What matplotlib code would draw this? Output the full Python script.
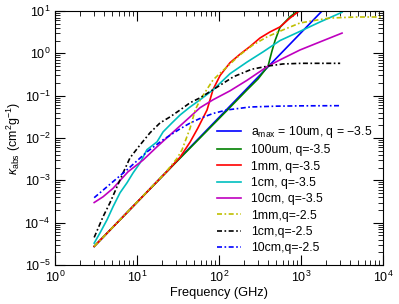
import numpy as np
import matplotlib
matplotlib.use('Agg')
import matplotlib.pyplot as plt

plt.rcParams['font.family'] = ['Liberation Sans', 'DejaVu Sans']
plt.rcParams['mathtext.fontset'] = 'custom'
plt.rcParams['mathtext.rm'] = 'Liberation Sans'
plt.rcParams['mathtext.it'] = 'Liberation Sans:italic'
plt.rcParams['mathtext.bf'] = 'Liberation Sans:bold'

# opacidades (GHz, cm2/g)
blue_f = [3, 3000]
blue_k = [2.76e-5, 27.6]

green_f = [3, 30, 60, 124, 218, 300, 396, 440, 482, 554, 734, 887, 1100, 1500, 3000]
green_k = [2.76e-5, 2.7e-3, 1.05e-2, 0.044, 0.135, 0.25, 0.5, 1.1, 2.0, 4.1, 7.3, 9.6, 13, 18, 30]

red_f = [3, 24, 33.4, 44.3, 55, 71.4, 84.5, 103, 136, 180, 239, 316, 419, 554, 734, 919, 1200, 3000]
red_k = [2.76e-5, 1.75e-3, 3.5e-3, 8.0e-3, 0.017, 0.046, 0.14, 0.3, 0.6, 0.95, 1.45, 2.3, 3.2, 4.2, 6.8, 9.5, 13, 30]

cyan_f = [3, 3.54, 4.31, 5.1, 6.2, 7.55, 8.94, 10.9, 13.2, 17.5, 20.8, 26.7, 33.5, 44.3, 58.7,
          84.5, 136, 219, 344, 554, 972, 1706, 3162]
cyan_k = [3.3e-5, 5.8e-5, 1.18e-4, 2.4e-4, 5.1e-4, 8.8e-4, 1.5e-3, 2.6e-3, 5.3e-3, 8.1e-3, 0.014,
          0.0228, 0.035, 0.054, 0.080, 0.137, 0.33, 0.62, 1.08, 2.0, 3.3, 5.5, 9.3]

mag_f = [3, 3.85, 5.1, 7.77, 11.8, 17.5, 30, 44.3, 58.7, 84.5, 136, 219, 396, 554, 972, 1706, 3162]
mag_k = [3.0e-4, 4.1e-4, 6.5e-4, 1.6e-3, 3.0e-3, 6.2e-3, 0.016, 0.0316, 0.052, 0.08, 0.13, 0.23, 0.5, 0.70, 1.2, 1.86, 3.0]

yel_f = [3, 22, 30.7, 35.4, 44.3, 51.2, 58.7, 84.5, 125, 180, 260, 385, 603, 972, 1567, 2259, 4820, 10000]
yel_k = [2.76e-5, 1.5e-3, 3.3e-3, 5.3e-3, 0.017, 0.046, 0.079, 0.236, 0.48, 0.92, 1.58, 2.44, 3.57, 5.2, 6.1, 6.8, 7.2, 7.2]

blk_f = [3, 3.85, 4.69, 5.7, 6.75, 8.2, 10.9, 14.4, 19.1, 25.3, 33.5, 44.3, 58.7, 100, 150, 250, 396, 600, 1000, 3000]
blk_k = [4.5e-5, 1.39e-4, 3.0e-4, 7.1e-4, 1.5e-3, 3.4e-3, 6.9e-3, 0.0133, 0.0228, 0.0316, 0.046, 0.068, 0.089,
         0.17, 0.28, 0.42, 0.5, 0.56, 0.58, 0.58]

bd_f = [3, 7.55, 13.2, 20.8, 33.5, 44.3, 58.7, 84.5, 125, 239, 500, 1000, 3000]
bd_k = [3.9e-4, 1.78e-3, 4.7e-3, 9.1e-3, 0.0165, 0.0225, 0.029, 0.038, 0.046, 0.054, 0.0565, 0.0575, 0.058]

fig = plt.figure(figsize=(3.99, 3.04), dpi=100)
ax = fig.add_axes([0.138, 0.128, 0.822, 0.836])

dd = (3, 1.5, 1, 1.5)
ax.plot(blue_f, blue_k, '-', color='b', lw=1.2, label=r'a$_{\rm max}$ = 10um, q = $-3.5$')
ax.plot(green_f, green_k, '-', color='g', lw=1.2, label='100um, q=-3.5')
ax.plot(red_f, red_k, '-', color='r', lw=1.2, label='1mm, q=-3.5')
ax.plot(cyan_f, cyan_k, '-', color='c', lw=1.2, label='1cm, q=-3.5')
ax.plot(mag_f, mag_k, '-', color='m', lw=1.2, label='10cm, q=-3.5')
ax.plot(yel_f, yel_k, '-.', color='y', lw=1.2, dashes=dd, label='1mm,q=-2.5')
ax.plot(blk_f, blk_k, '-.', color='k', lw=1.2, dashes=dd, label='1cm,q=-2.5')
ax.plot(bd_f, bd_k, '-.', color='b', lw=1.2, dashes=dd, label='10cm,q=-2.5')

ax.set_xscale('log')
ax.set_yscale('log')
ax.set_xlim(1, 1e4)
ax.set_ylim(1e-5, 10)
ax.set_xlabel('Frequency (GHz)', fontsize=9.2, labelpad=1.5)
ax.set_ylabel(r'$\kappa_{\rm abs}$ (cm$^2$g$^{-1}$)', fontsize=9, labelpad=1)
ax.tick_params(which='both', direction='in', top=True, right=True, labelsize=9)
ax.tick_params(which='major', length=7)
ax.tick_params(which='minor', length=3.5)

ax.legend(loc='lower right', frameon=False, fontsize=8.8, handlelength=2.0, labelspacing=0.35,
          borderaxespad=0.5)

plt.savefig('out.png', dpi=100)
